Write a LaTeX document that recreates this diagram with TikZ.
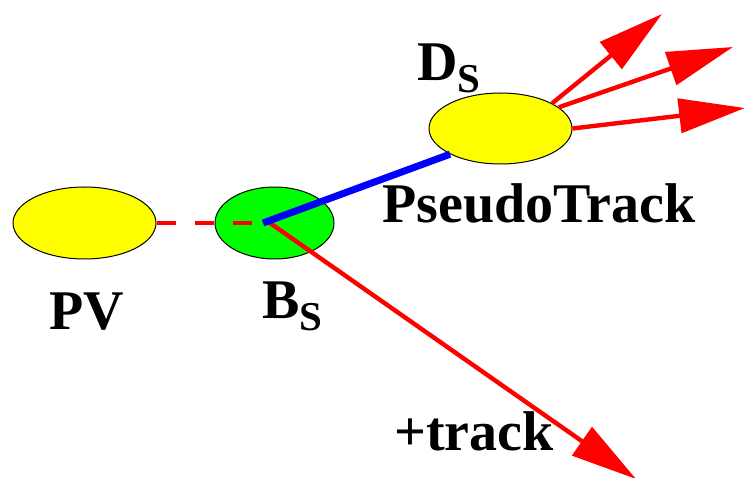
\documentclass[tikz,border=0pt]{standalone}
\usepackage{fontspec}
\setmainfont{Liberation Serif}
\usetikzlibrary{shapes.geometric,arrows.meta}
\definecolor{myred}{RGB}{255,0,0}
\definecolor{myblue}{RGB}{0,0,255}
\definecolor{myyellow}{RGB}{255,255,0}
\definecolor{mygreen}{RGB}{0,255,0}
\tikzset{
  vertexblob/.style={ellipse, draw=black, line width=1pt, inner sep=0pt},
  redarrow/.style={draw=myred, line width=4.4pt, -{Triangle[length=66pt,width=34pt]}},
  lbl/.style={inner sep=0pt, anchor=base west, font=\fontsize{56}{56}\selectfont\bfseries}
}
\newcommand{\mysub}[1]{\raisebox{-12pt}{\fontsize{41}{41}\selectfont #1}}
\begin{document}
\begin{tikzpicture}[x=1pt,y=-1pt]
\useasboundingbox (0,0) rectangle (744,478);
\node[vertexblob, fill=myyellow, minimum width=143pt, minimum height=72pt] (pv) at (84.5,223) {};
\node[vertexblob, fill=mygreen, minimum width=119pt, minimum height=72pt] (bs) at (274.5,223) {};
\node[vertexblob, fill=myyellow, minimum width=143pt, minimum height=71pt] (ds) at (500.5,128.5) {};
\coordinate (vtx) at (263,223);
\coordinate (trk) at (270,223);
\coordinate (t1) at (662,14);
\coordinate (t2) at (733,47);
\coordinate (t3) at (745,108);
\coordinate (t4) at (636,479);
\draw[myred, line width=4.4pt, dash pattern=on 19pt off 19pt] (pv.east) -- (vtx);
\draw[redarrow] (trk) -- (t4);
\draw[myblue, line width=7pt] (vtx) -- (ds.207);
\draw[redarrow] (ds.26) -- (t1);
\draw[redarrow] (ds.20) -- (t2);
\draw[redarrow] (ds.east) -- (t3);
\node[lbl] (pvl) at (49,329) {PV};
\node[lbl] (bsl) at (262,318) {B\mysub{S}};
\node[lbl] (dsl) at (417,81) {D\mysub{S}};
\node[lbl] (ptl) at (382,223) {PseudoTrack};
\node[lbl] (tkl) at (394,450) {+track};
\end{tikzpicture}
\end{document}
